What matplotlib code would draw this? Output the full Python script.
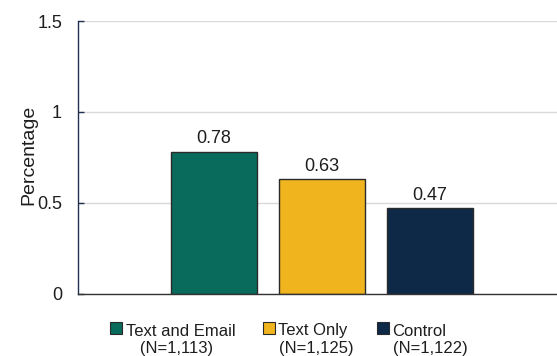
import matplotlib
matplotlib.use('Agg')
import matplotlib.pyplot as plt
from matplotlib.patches import Rectangle

# ---- data ----
categories = ['Text and Email', 'Text Only', 'Control']
sample_sizes = ['   (N=1,113)', '(N=1,125)', '(N=1,122)']
values = [0.78, 0.63, 0.47]
value_labels = ['0.78', '0.63', '0.47']
y_ticks = [0, 0.5, 1, 1.5]
y_tick_labels = ['0', '0.5', '1', '1.5']
y_label = 'Percentage'
colors = ['#086B5B', '#F0B51E', '#0D2947']

plt.rcParams['font.family'] = ['Liberation Sans', 'DejaVu Sans']
TEXT = '#1E1E1E'

W, H = 557, 356
fig = plt.figure(figsize=(W / 100, H / 100), dpi=100)
ax_left, ax_right, ax_top, ax_bot = 78, 557, 21, 293.5
ax = fig.add_axes([ax_left / W, (H - ax_bot) / H, (ax_right - ax_left) / W, (ax_bot - ax_top) / H])

x = list(range(len(values)))
ax.bar(x, values, width=0.8, color=colors, edgecolor='#2A2A2A', linewidth=1.0, zorder=3)
ax.set_xlim(-1.259, 3.176)
ax.set_ylim(0, 1.5)
ax.set_yticks(y_ticks, y_tick_labels)
ax.set_xticks([])
ax.yaxis.grid(True, color='#D9D9D9', linewidth=1)
ax.set_axisbelow(True)
ax.tick_params(axis='y', direction='in', length=4, width=1, color='#1F3050',
               labelsize=13, labelcolor=TEXT, pad=11.5)
for s in ['top', 'right']:
    ax.spines[s].set_visible(False)
ax.spines['left'].set_color('#1F3050')
ax.spines['left'].set_linewidth(1.0)
ax.spines['bottom'].set_color('#333333')
ax.spines['bottom'].set_linewidth(1.0)
ax.spines['bottom'].set_zorder(4)

ax.set_ylabel(y_label, fontsize=14, color=TEXT)
ax.yaxis.set_label_coords((37 - ax_left) / (ax_right - ax_left), 0.51)

for xi, v, lab in zip(x, values, value_labels):
    ax.annotate(lab, (xi, v), xytext=(0, 3.2), textcoords='offset points',
                ha='center', va='bottom', fontsize=13, color=TEXT)

# ---- legend (manual, below plot) ----
marker_x = [110, 263, 377]
msize = 11.5
m_center_y = 328
base1, base2 = 335.5, 353.5
for mx, c, cat, n in zip(marker_x, colors, categories, sample_sizes):
    fig.add_artist(Rectangle((mx / W, (H - m_center_y - msize / 2) / H), msize / W, msize / H,
                             transform=fig.transFigure, facecolor=c, edgecolor='#2A2A2A', linewidth=0.8))
    tx = (mx + 15.5) / W
    fig.text(tx, (H - base1) / H, cat, ha='left', va='baseline', fontsize=12, color=TEXT)
    fig.text(tx, (H - base2) / H, n, ha='left', va='baseline', fontsize=12, color=TEXT)

fig.savefig('out.png', dpi=100)
